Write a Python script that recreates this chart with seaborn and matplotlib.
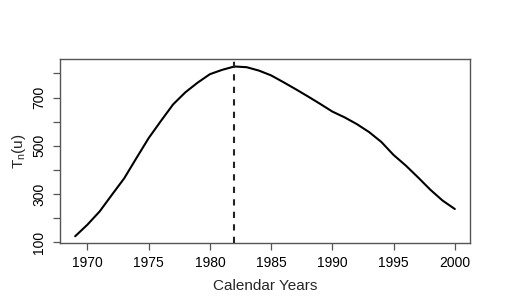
import matplotlib
matplotlib.use("Agg")
import matplotlib.pyplot as plt
import seaborn as sns
import pandas as pd

years = list(range(1969, 2001))
tn_values = [125, 173, 228, 297, 365, 449, 532, 603, 672, 722, 762, 797,
             815, 829, 826, 812, 792, 764, 735, 705, 674, 642, 618, 590,
             557, 516, 462, 418, 369, 318, 273, 238]
peak_year = 1982
x_ticks = [1970, 1975, 1980, 1985, 1990, 1995, 2000]
y_ticks = [100, 200, 300, 400, 500, 600, 700, 800]
y_labels = ["100", "", "300", "", "500", "", "700", ""]

df = pd.DataFrame({"year": years, "tn": tn_values})

sns.set_style("ticks")
plt.rcParams["font.family"] = ["Liberation Sans", "DejaVu Sans"]
plt.rcParams["mathtext.fontset"] = "custom"
plt.rcParams["mathtext.rm"] = "Liberation Sans"
plt.rcParams["mathtext.it"] = "Liberation Sans"

fig = plt.figure(figsize=(5.32, 3.04), dpi=100)
ax = fig.add_axes([60 / 532, 1 - 243 / 304, 410 / 532, 184 / 304])

sns.lineplot(data=df, x="year", y="tn", ax=ax, color="black", linewidth=1.5)
ax.axvline(peak_year, color="#222222", linestyle=(0, (3, 3)), linewidth=1.5)

ax.set_xlim(1967.76, 2001.24)
ax.set_ylim(97, 860)
ax.set_xticks(x_ticks)
ax.set_yticks(y_ticks)
ax.set_yticklabels(y_labels)
for lab in ax.get_yticklabels():
    lab.set_rotation(90)
    lab.set_va("center")

for s in ax.spines.values():
    s.set_visible(True)
    s.set_color("#555555")
    s.set_linewidth(1.0)

ax.tick_params(axis="both", direction="out", length=5, width=0.9,
               color="#555555", labelsize=10, labelcolor="black",
               bottom=True, left=True, top=False, right=False)
ax.tick_params(axis="x", pad=4.5)
ax.tick_params(axis="y", pad=5)

ax.set_xlabel("Calendar Years", fontsize=11, labelpad=6)
ax.set_ylabel(r"T$_\mathrm{n}$(u)", fontsize=11, labelpad=3)

fig.savefig("out.png", dpi=100)
